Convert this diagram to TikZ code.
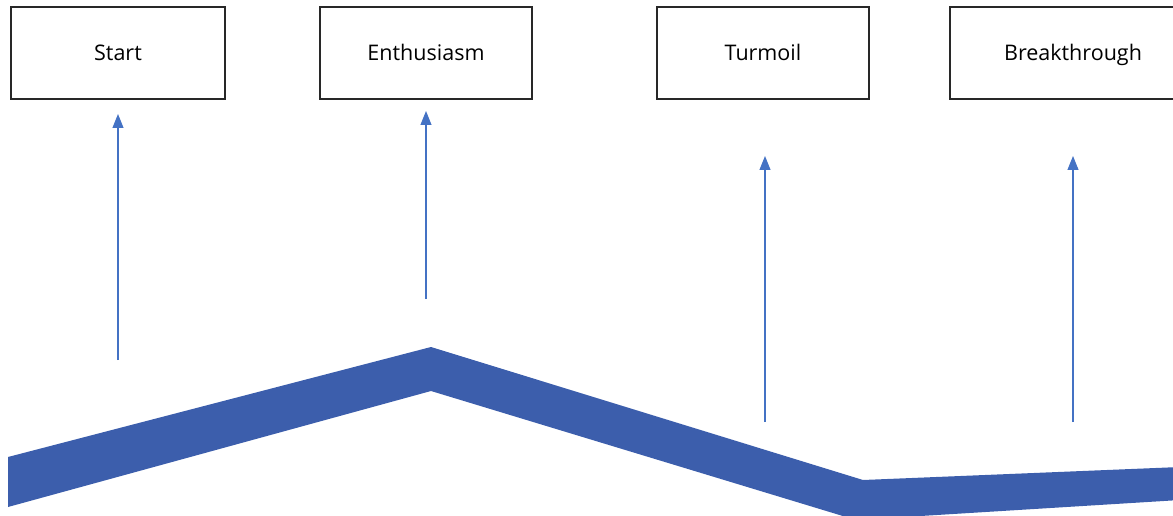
\documentclass[tikz,border=0pt]{standalone}
\usepackage{fontspec}
\setmainfont{Open Sans}
\usetikzlibrary{arrows.meta}
\definecolor{bandblue}{RGB}{60,94,172}
\definecolor{arrowblue}{RGB}{68,114,196}
\definecolor{boxline}{RGB}{40,40,40}
\tikzset{
  stagebox/.style={draw=boxline, line width=1.2pt, fill=white, minimum height=92pt, inner sep=0pt, text height=15pt, text depth=0pt, font=\fontsize{21.5}{26}\selectfont, text=black},
  uparrow/.style={draw=arrowblue, line width=1.1pt, -{Triangle[width=11pt,length=14pt]}, arrowblue}
}
\begin{document}
\begin{tikzpicture}[x=1pt,y=-1pt]
\useasboundingbox (0,0) rectangle (1173,516);
\begin{scope}
\clip (0,0) rectangle (1173,516);
% band
\fill[bandblue] (8,457) -- (431,347) -- (863,480) -- (1180,467) -- (1180,500) -- (856,520) -- (431,391) -- (8,507) -- cycle;
% boxes
\node[stagebox, minimum width=214pt] (start) at (118,53) {Start};
\node[stagebox, minimum width=212pt] (enth) at (426,53) {Enthusiasm};
\node[stagebox, minimum width=212pt] (turm) at (763,53) {Turmoil};
\node[stagebox, minimum width=246pt] (brk) at (1073,53) {Breakthrough};
% arrow ends
\coordinate (a1) at (118,360);
\coordinate (b1) at (118,114);
\coordinate (a2) at (426,299);
\coordinate (b2) at (426,111);
\coordinate (a3) at (765,422);
\coordinate (b3) at (765,156);
\coordinate (a4) at (1073,422);
\coordinate (b4) at (1073,156);
\draw[uparrow] (a1) -- (b1);
\draw[uparrow] (a2) -- (b2);
\draw[uparrow] (a3) -- (b3);
\draw[uparrow] (a4) -- (b4);
\end{scope}
\end{tikzpicture}
\end{document}
